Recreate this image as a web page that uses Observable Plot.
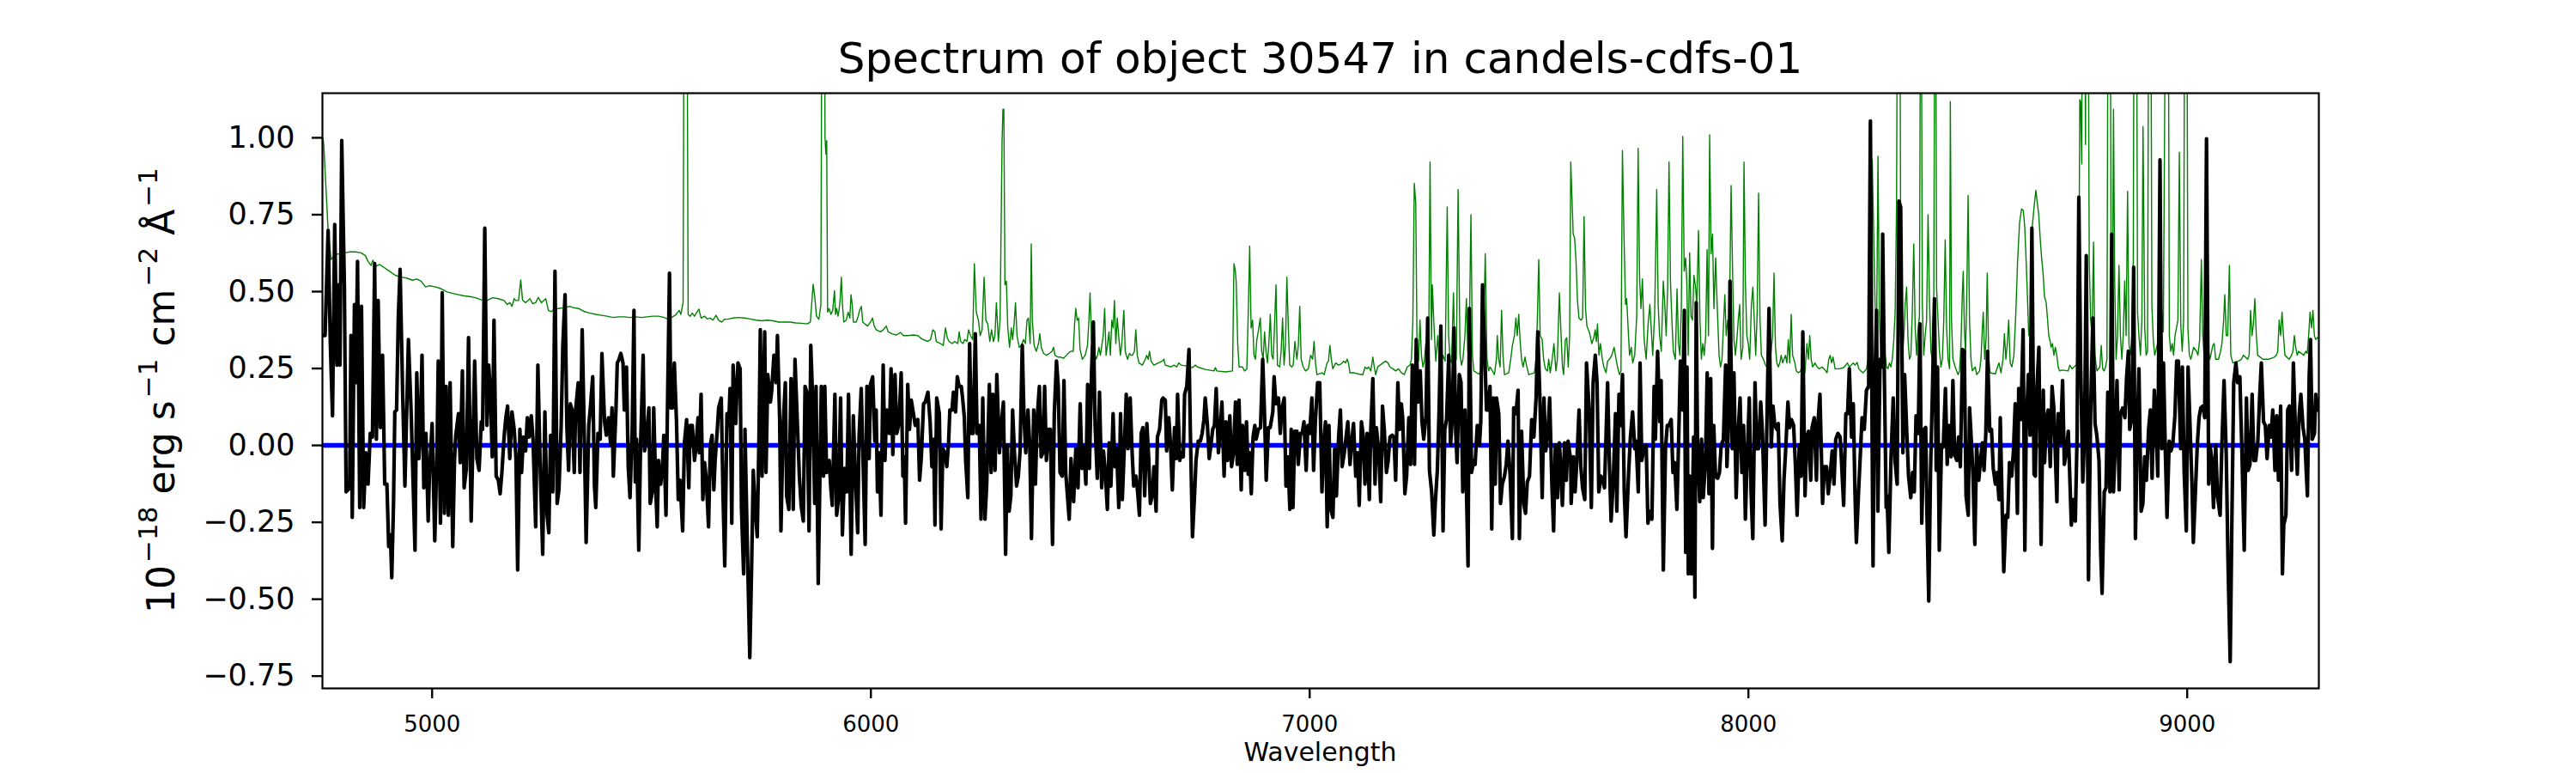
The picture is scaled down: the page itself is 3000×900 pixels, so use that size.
<!DOCTYPE html>
<html>
<head>
<meta charset="utf-8">
<script src="https://cdn.jsdelivr.net/npm/d3@7"></script>
<script src="https://cdn.jsdelivr.net/npm/@observablehq/plot@0.6"></script>
<style>
  body { margin: 0; background: white; }
  #fig { position: relative; width: 3000px; height: 900px; font-family: "DejaVu Sans", sans-serif; color: black; }
  #title { position: absolute; left: 0; width: 3075px; top: 43px; text-align: center; font-size: 50px; line-height: 50px; }
  #chart { position: absolute; left: 0; top: 100px; }
</style>
</head>
<body>
<div id="fig">
  <div id="title">Spectrum of object 30547 in candels-cdfs-01</div>
  <div id="chart"></div>
</div>
<script>
const titleText = "Spectrum of object 30547 in candels-cdfs-01";
const xLabel = "Wavelength";
const xTicks = [5000, 6000, 7000, 8000, 9000];
const yTicks = [-0.75, -0.5, -0.25, 0, 0.25, 0.5, 0.75, 1.0];
const xDomain = [4750, 9300];
const yDomain = [-0.79, 1.145];
const zeroLevel = [0];

// observed flux [wavelength, flux]
const observed = [
[4750,0.357],[4756,0.357],[4763,0.699],[4768,0.331],[4773,0.096],[4778,0.718],[4783,0.261],[4786,0.522],[4790,0.261],[4794,0.991],[4800,0.522],[4804,-0.151],[4812,-0.138],[4815,0.357],[4818,-0.234],[4823,0.458],[4826,0.204],[4830,0.598],[4835,-0.202],[4839,0.452],[4844,-0.202],[4849,-0.024],[4854,-0.126],[4859,0.039],[4864,0.027],[4869,0.591],[4873,0.020],[4877,0.471],[4882,0.058],[4887,0.293],[4892,-0.126],[4897,-0.126],[4901,-0.329],[4905,-0.291],[4908,-0.430],[4912,-0.189],[4915,0.109],[4919,0.115],[4923,0.420],[4927,0.572],[4933,0.160],[4938,-0.132],[4946,0.344],[4952,0.115],[4961,-0.341],[4965,0.236],[4970,-0.043],[4973,0.046],[4977,0.293],[4981,-0.138],[4986,0.039],[4991,-0.246],[4994,-0.088],[5000,0.071],[5006,-0.310],[5011,-0.030],[5014,0.274],[5019,-0.253],[5023,0.496],[5028,-0.221],[5032,0.192],[5037,-0.227],[5041,0.204],[5047,-0.329],[5051,-0.049],[5054,0.033],[5060,0.103],[5064,-0.056],[5069,0.242],[5073,-0.138],[5078,-0.075],[5083,0.350],[5089,-0.246],[5092,-0.049],[5097,0.274],[5102,-0.043],[5107,-0.081],[5112,0.077],[5115,0.052],[5120,0.706],[5125,0.065],[5129,0.261],[5133,0.166],[5137,-0.037],[5141,0.407],[5146,-0.100],[5151,-0.113],[5155,-0.157],[5159,-0.088],[5164,0.027],[5168,0.090],[5172,0.128],[5177,-0.043],[5182,0.109],[5187,0.052],[5191,-0.037],[5195,-0.405],[5200,0.052],[5204,-0.088],[5208,0.027],[5213,-0.018],[5217,0.090],[5221,0.027],[5226,0.096],[5230,0.020],[5236,-0.265],[5241,0.261],[5246,-0.049],[5252,-0.354],[5257,0.109],[5262,-0.227],[5266,-0.284],[5270,0.033],[5275,-0.151],[5280,0.566],[5285,-0.189],[5289,-0.145],[5294,0.058],[5298,0.331],[5303,0.490],[5307,0.065],[5311,-0.081],[5315,0.135],[5319,0.115],[5324,-0.088],
[5327,0.115],[5333,0.204],[5337,-0.088],[5342,0.376],[5347,0.020],[5351,-0.316],[5357,0.065],[5361,0.128],[5366,0.223],[5370,-0.132],[5373,-0.202],[5378,0.039],[5383,0.020],[5387,0.299],[5393,0.077],[5397,0.033],[5402,0.090],[5407,0.001],[5410,0.122],[5413,-0.100],[5419,0.115],[5422,0.268],[5426,0.280],[5430,0.299],[5435,0.268],[5438,0.115],[5443,0.255],[5447,-0.069],[5451,-0.170],[5456,0.052],[5460,0.439],[5463,-0.119],[5466,0.020],[5471,-0.341],[5475,-0.005],[5481,0.293],[5484,-0.018],[5488,0.014],[5494,0.122],[5497,-0.189],[5502,-0.151],[5505,0.122],[5510,-0.151],[5513,-0.265],[5516,-0.049],[5521,-0.126],[5525,-0.069],[5528,0.033],[5533,-0.227],[5536,0.084],[5541,0.560],[5544,0.122],[5548,0.122],[5552,0.268],[5557,0.077],[5561,-0.176],[5565,-0.113],[5571,-0.278],[5575,0.008],[5580,0.084],[5585,-0.138],[5588,0.065],[5593,0.065],[5598,-0.049],[5601,-0.011],[5606,0.090],[5609,-0.024],[5613,0.166],[5617,-0.176],[5621,-0.056],[5625,-0.113],[5630,-0.265],[5634,0.001],[5638,0.033],[5642,-0.145],[5645,-0.049],[5650,0.052],[5653,0.122],[5659,0.154],[5663,-0.164],[5667,-0.392],[5672,0.103],[5676,0.065],[5679,0.185],[5683,-0.253],[5686,0.261],[5692,0.071],[5697,0.268],[5702,0.249],[5705,-0.202],[5710,-0.418],[5713,0.052],[5719,-0.367],[5724,-0.690],[5728,-0.405],[5732,-0.081],[5736,-0.202],[5741,-0.297],[5745,0.033],[5748,0.376],[5752,-0.100],[5758,0.369],[5761,-0.088],[5765,0.230],[5771,0.141],[5774,0.179],[5779,0.293],[5784,0.204],[5787,0.357],[5792,0.090],[5795,-0.278],[5800,0.065],[5805,0.204],[5808,-0.164],[5813,-0.208],[5818,0.217],[5823,-0.208],[5827,0.280],[5833,0.052],[5837,-0.100],[5841,-0.195],[5846,-0.246],[5850,0.192],[5854,0.173],[5859,-0.278],[5863,0.325],[5867,0.160],[5872,-0.189],[5875,0.192],[5880,-0.449],
[5887,0.192],[5892,-0.100],[5895,0.192],[5899,-0.088],[5905,-0.049],[5909,-0.145],[5912,-0.195],[5918,0.166],[5922,-0.227],[5926,-0.176],[5931,0.154],[5935,-0.291],[5940,-0.075],[5945,-0.151],[5949,0.166],[5955,-0.354],[5960,0.096],[5965,-0.113],[5970,-0.284],[5973,0.027],[5978,0.185],[5983,-0.100],[5987,-0.322],[5991,0.192],[5996,-0.043],[5999,0.198],[6004,0.223],[6009,0.014],[6012,0.115],[6015,-0.151],[6019,-0.024],[6023,-0.227],[6028,0.261],[6032,-0.049],[6036,0.115],[6042,0.039],[6046,0.249],[6050,-0.030],[6055,0.230],[6059,0.039],[6064,0.071],[6069,0.236],[6073,-0.100],[6076,-0.037],[6079,-0.253],[6084,0.198],[6088,0.052],[6092,0.147],[6097,0.103],[6101,0.065],[6107,0.084],[6111,-0.113],[6115,-0.037],[6120,0.135],[6124,0.141],[6130,0.173],[6135,0.077],[6139,-0.069],[6143,0.020],[6146,-0.259],[6150,0.154],[6156,0.103],[6160,-0.272],[6164,-0.011],[6169,-0.024],[6173,-0.069],[6177,0.008],[6180,0.115],[6185,0.115],[6188,0.173],[6193,0.109],[6197,0.223],[6201,0.192],[6206,0.192],[6209,0.154],[6213,0.090],[6216,-0.049],[6221,-0.170],[6225,0.331],[6229,0.039],[6233,0.039],[6238,0.363],[6242,0.039],[6247,0.065],[6251,-0.240],[6255,0.154],[6260,-0.240],[6264,-0.126],[6270,0.198],[6274,-0.088],[6278,0.166],[6283,-0.081],[6287,0.230],[6293,-0.024],[6297,0.065],[6302,0.141],[6307,-0.354],[6311,0.001],[6315,-0.214],[6319,-0.164],[6323,0.115],[6327,-0.018],[6332,-0.132],[6336,-0.100],[6340,-0.018],[6345,0.325],[6349,0.090],[6353,-0.024],[6358,0.115],[6362,0.001],[6366,-0.303],[6371,0.115],[6375,-0.126],[6379,0.090],[6384,0.192],[6388,-0.037],[6392,-0.024],[6396,0.192],[6400,-0.049],[6405,0.052],[6409,0.052],[6414,-0.322],[6418,0.103],[6423,0.274],[6427,0.192],[6431,-0.088],[6436,-0.100],[6440,0.211],[6444,-0.088],[6448,-0.164],[6452,-0.240],[6456,-0.043],
[6462,-0.183],[6467,-0.011],[6472,-0.138],[6477,0.135],[6481,-0.075],[6485,-0.005],[6490,-0.126],[6494,0.198],[6498,-0.075],[6503,0.242],[6507,0.401],[6511,0.065],[6516,-0.107],[6521,0.173],[6526,-0.138],[6530,-0.018],[6534,-0.081],[6539,-0.208],[6543,0.008],[6547,-0.132],[6552,0.103],[6556,-0.069],[6560,-0.011],[6565,-0.202],[6569,0.103],[6573,-0.176],[6578,0.008],[6582,0.166],[6586,-0.011],[6591,0.154],[6595,-0.011],[6599,-0.132],[6604,-0.100],[6608,-0.151],[6612,-0.227],[6616,0.039],[6620,0.058],[6624,-0.164],[6629,0.071],[6633,-0.037],[6637,-0.189],[6642,-0.157],[6645,-0.069],[6650,-0.214],[6653,0.027],[6658,0.052],[6663,0.147],[6666,0.154],[6671,0.147],[6674,-0.018],[6679,0.090],[6683,0.001],[6687,-0.145],[6692,0.058],[6696,-0.043],[6699,0.166],[6704,-0.049],[6708,-0.024],[6712,-0.037],[6715,0.166],[6720,0.192],[6725,0.312],[6728,0.052],[6733,-0.297],[6738,-0.151],[6741,-0.049],[6746,0.014],[6751,0.014],[6755,0.039],[6759,0.084],[6762,0.154],[6767,0.065],[6771,-0.043],[6775,0.001],[6779,0.052],[6783,0.065],[6787,0.185],[6792,-0.024],[6796,0.046],[6800,0.141],[6805,-0.100],[6809,0.077],[6813,-0.049],[6818,0.096],[6822,-0.069],[6826,-0.030],[6831,0.141],[6835,-0.062],[6839,0.147],[6844,-0.145],[6847,0.065],[6852,-0.081],[6856,0.077],[6860,-0.094],[6863,-0.024],[6867,-0.157],[6871,0.027],[6875,0.065],[6878,0.020],[6883,0.052],[6888,0.058],[6893,0.280],[6897,0.109],[6901,-0.113],[6906,0.058],[6910,0.058],[6916,0.109],[6919,0.223],[6923,0.135],[6929,0.154],[6933,0.039],[6937,0.122],[6942,0.154],[6946,-0.132],[6950,-0.037],[6955,-0.208],[6958,0.052],[6962,-0.202],[6966,0.046],[6971,0.046],[6974,-0.062],[6979,0.039],[6983,0.039],[6987,0.077],[6992,-0.081],[6996,0.065],[7000,0.039],[7005,0.154],[7009,-0.081],[7013,0.077],[7018,0.204],[7023,0.204],[7028,-0.151],
[7032,0.001],[7036,0.077],[7040,-0.265],[7044,0.065],[7048,-0.208],[7053,-0.234],[7057,-0.011],[7061,-0.164],[7066,0.027],[7070,0.115],[7074,-0.069],[7079,-0.024],[7083,0.027],[7087,0.077],[7092,-0.062],[7096,0.014],[7100,0.071],[7105,-0.100],[7109,-0.024],[7113,-0.195],[7118,0.077],[7122,0.033],[7126,-0.126],[7131,0.039],[7136,-0.176],[7139,0.039],[7144,0.217],[7149,-0.126],[7152,0.058],[7157,-0.011],[7162,-0.183],[7166,0.128],[7170,0.052],[7175,-0.088],[7179,-0.049],[7183,0.027],[7188,0.033],[7192,0.027],[7196,-0.113],[7201,0.204],[7205,0.052],[7209,0.135],[7212,0.090],[7217,-0.157],[7221,-0.100],[7226,0.090],[7230,-0.062],[7234,0.261],[7239,-0.062],[7243,0.344],[7247,0.141],[7252,0.242],[7256,0.077],[7260,0.020],[7265,0.096],[7269,0.414],[7273,-0.081],[7278,-0.151],[7283,-0.291],[7286,-0.195],[7291,-0.081],[7295,0.115],[7299,0.388],[7304,-0.278],[7308,0.052],[7312,0.084],[7317,0.293],[7321,0.001],[7325,0.084],[7329,0.382],[7333,0.039],[7336,-0.056],[7341,0.230],[7345,0.204],[7349,-0.151],[7354,0.115],[7358,-0.189],[7361,-0.392],[7364,0.445],[7369,-0.088],[7374,-0.049],[7377,-0.062],[7382,0.065],[7387,0.001],[7390,0.077],[7394,0.522],[7398,0.357],[7403,0.115],[7407,0.115],[7411,0.192],[7415,-0.272],[7419,0.154],[7423,-0.126],[7426,0.154],[7431,0.103],[7435,-0.189],[7439,-0.126],[7444,-0.100],[7448,-0.062],[7452,0.014],[7457,-0.100],[7462,-0.303],[7465,0.122],[7470,0.103],[7475,0.179],[7478,-0.303],[7483,0.046],[7488,-0.189],[7492,-0.221],[7496,-0.119],[7501,-0.100],[7506,0.084],[7511,0.027],[7516,0.154],[7520,0.369],[7525,0.141],[7530,-0.170],[7534,0.154],[7538,-0.018],[7543,0.039],[7547,0.154],[7552,-0.126],[7556,-0.278],[7560,0.001],[7565,-0.170],[7569,0.008],[7572,-0.062],[7576,-0.195],[7581,0.008],[7585,-0.113],[7589,0.014],[7595,-0.049],
[7596,-0.189],[7601,-0.037],[7605,-0.151],[7609,-0.049],[7614,0.115],[7618,-0.069],[7622,-0.138],[7627,-0.176],[7631,0.268],[7637,0.115],[7642,-0.202],[7646,0.204],[7651,0.293],[7655,0.204],[7659,-0.151],[7664,-0.100],[7668,-0.113],[7672,-0.138],[7679,0.204],[7683,-0.049],[7687,-0.246],[7692,-0.113],[7697,0.103],[7700,-0.214],[7705,0.166],[7708,0.065],[7713,0.230],[7717,-0.151],[7721,-0.297],[7727,-0.088],[7731,0.027],[7736,0.109],[7741,-0.011],[7744,0.014],[7749,-0.151],[7753,0.268],[7757,-0.049],[7762,-0.005],[7767,0.001],[7771,-0.253],[7775,-0.214],[7780,-0.240],[7785,0.192],[7788,0.020],[7793,0.306],[7798,0.077],[7801,0.211],[7806,-0.405],[7811,-0.011],[7815,0.065],[7819,0.065],[7824,0.084],[7828,-0.088],[7832,-0.056],[7837,-0.208],[7841,0.020],[7845,0.274],[7850,0.115],[7854,0.439],[7857,-0.348],[7860,0.255],[7863,-0.418],[7866,-0.100],[7870,-0.418],[7875,0.027],[7878,-0.494],[7881,0.464],[7884,0.001],[7889,-0.183],[7893,0.020],[7897,-0.170],[7902,-0.056],[7906,0.236],[7910,-0.157],[7914,0.217],[7918,-0.335],[7921,0.065],[7925,-0.100],[7930,-0.107],[7934,-0.088],[7938,0.001],[7943,0.020],[7948,0.261],[7951,-0.069],[7955,0.084],[7958,0.534],[7963,-0.011],[7967,0.236],[7972,-0.170],[7977,0.052],[7981,0.154],[7985,-0.088],[7989,0.065],[7993,-0.240],[7997,-0.049],[8002,0.154],[8006,-0.151],[8010,-0.303],[8015,0.204],[8019,-0.011],[8023,-0.011],[8028,0.141],[8032,0.039],[8038,-0.259],[8042,0.065],[8047,0.445],[8052,-0.005],[8056,0.128],[8060,0.065],[8065,0.052],[8068,0.071],[8072,-0.189],[8077,-0.310],[8081,-0.113],[8085,-0.011],[8090,0.141],[8094,0.058],[8098,0.084],[8103,0.065],[8107,-0.062],[8111,-0.227],[8116,0.001],[8120,-0.100],[8124,0.369],[8129,-0.164],[8133,0.027],[8137,0.046],[8142,-0.113],[8145,0.058],[8150,0.090],[8155,-0.113],[8158,0.065],[8163,0.166],
[8169,-0.189],[8173,-0.069],[8178,-0.069],[8182,-0.157],[8186,-0.100],[8191,-0.018],[8195,-0.126],[8199,0.020],[8204,0.039],[8209,0.027],[8212,-0.049],[8217,-0.195],[8222,0.103],[8226,0.103],[8230,0.249],[8235,0.027],[8239,0.135],[8243,-0.164],[8246,-0.316],[8251,-0.151],[8255,-0.030],[8259,0.090],[8264,0.052],[8269,0.179],[8274,0.192],[8278,1.055],[8282,0.001],[8284,-0.392],[8287,0.128],[8292,0.439],[8295,-0.214],[8300,0.280],[8304,0.255],[8306,0.687],[8310,0.204],[8314,-0.202],[8316,-0.164],[8320,-0.348],[8325,-0.037],[8330,0.154],[8334,-0.049],[8339,-0.126],[8343,0.794],[8347,0.775],[8352,-0.024],[8356,0.230],[8361,0.039],[8365,-0.100],[8370,-0.170],[8374,-0.088],[8378,-0.151],[8382,0.096],[8387,0.039],[8391,0.395],[8395,-0.253],[8400,0.052],[8404,0.058],[8407,-0.227],[8411,-0.506],[8415,-0.088],[8419,0.154],[8424,0.477],[8428,-0.081],[8431,0.255],[8435,-0.341],[8440,0.001],[8444,-0.005],[8449,0.185],[8453,-0.062],[8457,0.065],[8462,-0.037],[8466,0.211],[8470,-0.030],[8475,-0.049],[8479,0.027],[8483,-0.069],[8488,0.312],[8492,0.306],[8496,-0.164],[8501,-0.227],[8504,0.122],[8509,-0.011],[8512,-0.107],[8516,-0.322],[8520,0.001],[8525,-0.113],[8529,-0.049],[8533,0.008],[8537,-0.081],[8541,0.039],[8545,0.306],[8550,0.046],[8554,0.052],[8558,-0.075],[8563,-0.126],[8567,-0.088],[8571,-0.176],[8574,0.090],[8579,-0.240],[8582,-0.411],[8587,-0.227],[8591,-0.234],[8595,-0.056],[8600,-0.100],[8604,-0.018],[8608,0.135],[8613,-0.221],[8616,0.185],[8621,0.084],[8626,0.376],[8630,-0.341],[8633,0.052],[8638,0.230],[8642,0.033],[8646,0.706],[8651,-0.094],[8654,-0.100],[8657,0.173],[8662,0.319],[8667,-0.322],[8672,0.179],[8675,-0.056],[8679,0.084],[8683,0.115],[8688,-0.069],[8692,0.192],[8696,0.122],[8703,-0.183],[8706,0.103],[8711,0.008],[8716,0.211],[8720,-0.062],[8724,-0.024],[8729,0.046],
[8736,-0.259],[8740,-0.176],[8745,-0.246],[8749,0.027],[8753,0.807],[8757,0.280],[8762,-0.119],[8766,0.027],[8770,0.617],[8775,-0.437],[8780,0.115],[8785,0.414],[8790,0.071],[8794,0.033],[8799,-0.049],[8803,-0.354],[8806,-0.481],[8811,-0.151],[8815,-0.138],[8819,0.173],[8824,-0.151],[8828,0.687],[8832,-0.151],[8835,-0.037],[8840,0.211],[8845,-0.145],[8848,0.103],[8853,0.122],[8858,0.090],[8862,0.223],[8866,0.306],[8869,0.052],[8874,0.090],[8878,0.579],[8882,-0.303],[8886,0.027],[8890,0.249],[8895,-0.214],[8899,-0.189],[8903,-0.037],[8907,-0.113],[8912,0.052],[8916,0.115],[8920,-0.107],[8925,0.179],[8928,0.103],[8933,-0.100],[8938,0.928],[8942,-0.011],[8946,0.268],[8950,-0.011],[8954,-0.234],[8959,0.014],[8963,-0.018],[8967,0.001],[8972,0.096],[8976,0.274],[8980,0.274],[8985,-0.011],[8989,0.255],[8993,-0.081],[8998,-0.278],[9002,0.255],[9006,0.084],[9011,-0.132],[9014,-0.316],[9018,-0.176],[9023,0.001],[9027,0.090],[9031,0.122],[9036,0.128],[9040,0.090],[9044,0.997],[9049,-0.126],[9052,0.001],[9056,-0.043],[9060,-0.202],[9065,0.001],[9069,-0.164],[9075,-0.227],[9079,0.001],[9084,0.211],[9089,-0.030],[9093,-0.379],[9098,-0.703],[9102,-0.227],[9106,0.204],[9111,0.268],[9115,0.204],[9120,0.223],[9125,-0.037],[9130,-0.341],[9135,0.154],[9139,-0.081],[9143,-0.062],[9148,0.166],[9152,-0.049],[9156,-0.049],[9161,0.014],[9165,0.154],[9169,0.268],[9174,0.077],[9178,0.065],[9182,-0.043],[9187,0.065],[9191,0.027],[9195,0.115],[9200,-0.081],[9204,0.096],[9208,-0.113],[9213,0.128],[9217,-0.418],[9220,-0.259],[9225,-0.227],[9229,0.115],[9233,0.128],[9238,-0.081],[9242,0.268],[9246,0.077],[9251,-0.094],[9255,0.096],[9259,0.166],[9264,0.058],[9268,0.020],[9274,-0.164],[9278,0.223],[9281,0.344],[9285,0.020],[9290,0.039],[9293,0.166],[9298,0.115]
];

// model / sky spectrum [wavelength, flux] (spikes beyond the top are clipped)
const model = [
[4751,1.0],[4753,0.978],[4763,0.699],[4770,0.604],[4779,0.621],[4792,0.623],[4802,0.626],[4812,0.629],[4825,0.629],[4838,0.626],[4848,0.617],[4854,0.598],[4861,0.585],[4865,0.602],[4871,0.582],[4880,0.588],[4890,0.579],[4903,0.566],[4916,0.553],[4929,0.547],[4942,0.544],[4955,0.537],[4965,0.541],[4975,0.534],[4985,0.515],[4994,0.519],[5008,0.515],[5021,0.509],[5034,0.499],[5047,0.494],[5060,0.490],[5073,0.486],[5086,0.484],[5099,0.480],[5112,0.473],[5125,0.471],[5138,0.480],[5151,0.477],[5164,0.471],[5171,0.458],[5177,0.464],[5182,0.452],[5187,0.477],[5191,0.471],[5197,0.471],[5202,0.538],[5206,0.473],[5213,0.464],[5223,0.477],[5229,0.461],[5236,0.464],[5242,0.481],[5249,0.464],[5259,0.477],[5265,0.439],[5272,0.435],[5278,0.443],[5288,0.445],[5301,0.448],[5314,0.452],
[5321,0.448],[5334,0.445],[5347,0.435],[5360,0.430],[5373,0.426],[5386,0.423],[5399,0.420],[5412,0.416],[5425,0.418],[5438,0.418],[5451,0.416],[5464,0.418],[5477,0.416],[5490,0.418],[5503,0.420],[5516,0.420],[5529,0.416],[5536,0.411],[5546,0.416],[5555,0.424],[5563,0.439],[5567,0.426],[5572,0.464],[5575,2.0],[5580,2.0],[5583.5,0.426],[5588,0.420],[5593,0.430],[5598,0.420],[5602,0.430],[5608,0.443],[5613,0.414],[5621,0.420],[5627,0.411],[5634,0.414],[5640,0.407],[5647,0.423],[5653,0.407],[5660,0.401],[5666,0.410],[5676,0.411],[5686,0.414],[5699,0.416],[5712,0.414],[5725,0.411],[5738,0.407],[5751,0.405],[5764,0.407],[5777,0.405],[5790,0.401],[5803,0.401],[5816,0.401],[5829,0.398],[5842,0.397],[5855,0.395],[5862,0.401],[5865,0.458],[5868.4,0.524],[5872,0.484],[5876,0.420],[5881.5,0.410],[5886,0.458],[5889.3,2.0],
[5893.5,2.0],[5895.4,1.004],[5897.4,0.947],[5899.3,0.991],[5901.3,0.433],[5904.5,0.445],[5909,0.426],[5913,0.439],[5917,0.503],[5919.5,0.426],[5922,0.445],[5925,0.420],[5927.4,0.439],[5930,0.477],[5932.6,0.547],[5935.2,0.458],[5938.4,0.401],[5943.7,0.407],[5948.2,0.433],[5952,0.414],[5954.7,0.490],[5957.4,0.458],[5960,0.401],[5966.5,0.401],[5971,0.420],[5974.3,0.439],[5978.2,0.452],[5981.5,0.401],[5986,0.395],[5992.6,0.388],[5999.1,0.401],[6003.6,0.414],[6007.6,0.388],[6012,0.376],[6022,0.369],[6028.4,0.376],[6035,0.388],[6039.5,0.369],[6048,0.363],[6058,0.359],[6067.5,0.367],[6074,0.357],[6084,0.357],[6097,0.359],[6107,0.357],[6116,0.346],[6129.5,0.338],[6136,0.344],[6141.2,0.376],[6145.8,0.369],[6149,0.338],[6159,0.331],[6165,0.325],[6170,0.382],[6174,0.350],[6178,0.338],[6185,0.331],[6191,0.338],[6198,0.331],[6201.2,0.369],[6204.5,0.338],[6210,0.331],[6214,0.344],[6219,0.338],[6222.7,0.376],[6227,0.357],[6232,0.344],[6235.8,0.591],[6240.3,0.433],[6245,0.407],[6249,0.357],[6253.4,0.376],[6258,0.547],[6262,0.407],[6266.4,0.395],[6271,0.338],[6275,0.376],[6279.4,0.338],[6282.7,0.357],[6286,0.464],[6290.5,0.338],[6294.4,0.407],[6299,0.991],[6301,1.093],[6303,1.093],[6305.5,0.522],[6308.8,0.534],[6312,0.382],[6316,0.319],[6320,0.382],[6323,0.344],[6326.4,0.395],[6329.6,0.464],[6333,0.357],[6338,0.319],[6343,0.325],[6348,0.344],[6352,0.331],[6355.7,0.407],[6359,0.414],[6363,0.331],[6365.5,0.655],[6368,0.407],[6372,0.325],[6377,0.306],[6382,0.331],[6385,0.363],[6388.3,0.319],[6393.5,0.299],[6400,0.293],[6406.6,0.299],[6413,0.306],[6416.4,0.319],[6419.6,0.293],[6426,0.287],[6432.7,0.287],[6439,0.283],[6445.7,0.293],
[6449.3,0.299],[6455.8,0.306],[6461.1,0.306],[6464.3,0.395],[6466.9,0.445],[6470.2,0.407],[6473.4,0.414],[6476.7,0.312],[6481.9,0.280],[6488.4,0.293],[6493.7,0.325],[6496.9,0.407],[6499.5,0.496],[6502.8,0.344],[6506.6,0.319],[6510,0.299],[6513.2,0.280],[6516.5,0.293],[6519.7,0.319],[6523,0.293],[6526.3,0.325],[6529.5,0.357],[6532.8,0.445],[6536,0.293],[6539.3,0.325],[6542.6,0.369],[6545.8,0.293],[6549.1,0.407],[6552.3,0.382],[6555,0.471],[6558.2,0.331],[6561.5,0.414],[6564.7,0.357],[6568.6,0.293],[6571.9,0.331],[6576.5,0.439],[6579.7,0.306],[6584.9,0.280],[6589.5,0.299],[6592.8,0.293],[6596,0.293],[6600.6,0.306],[6603.8,0.376],[6607.1,0.293],[6611,0.268],[6618.8,0.261],[6625.4,0.280],[6628.6,0.293],[6631.9,0.280],[6635.1,0.306],[6638.4,0.274],[6644.9,0.261],[6654.7,0.268],[6664.5,0.274],[6667.7,0.280],[6671,0.261],[6684,0.255],[6690.6,0.261],[6697.1,0.255],[6701.6,0.268],[6706.9,0.261],[6719.9,0.258],[6732.9,0.253],[6739.5,0.261],[6744,0.255],[6762.3,0.247],[6781.8,0.242],[6785.1,0.253],[6788.4,0.242],[6807.9,0.239],[6824.2,0.242],[6827.5,0.591],[6830.7,0.566],[6832.7,0.528],[6836,0.331],[6839.2,0.255],[6847,0.255],[6851.6,0.242],[6856.8,0.249],[6860.1,0.433],[6863.3,0.648],[6866.6,0.382],[6869.9,0.407],[6873.1,0.293],[6876.4,0.280],[6879.6,0.344],[6883.6,0.376],[6887.5,0.414],[6890.7,0.306],[6894,0.280],[6897.2,0.369],[6900.5,0.306],[6903.8,0.268],[6907,0.331],[6910.3,0.426],[6913.5,0.293],[6916.8,0.280],[6920.1,0.395],[6923.3,0.522],[6926.6,0.261],[6931.8,0.255],[6935,0.306],[6938.3,0.414],[6941.6,0.261],[6944.8,0.325],[6948.1,0.547],[6951.4,0.382],[6954.6,0.261],[6959.2,0.255],[6962.4,0.261],[6966.4,0.338],[6970.9,0.280],[6974.2,0.325],[6977.4,0.452],[6980.7,0.280],[6985.3,0.255],[6990.5,0.242],[6997,0.249],[7002.2,0.293],[7006.8,0.280],[7010,0.338],[7013.3,0.268],[7016.6,0.230],[7028.3,0.236],
[7033.1,0.230],[7039.6,0.268],[7042.9,0.274],[7046.2,0.325],[7049.4,0.280],[7052.7,0.249],[7059.2,0.268],[7065.7,0.261],[7072.2,0.265],[7077.5,0.274],[7082,0.268],[7085.3,0.280],[7088.5,0.268],[7091.8,0.236],[7101.6,0.236],[7111.4,0.232],[7121.1,0.230],[7126.4,0.255],[7130.9,0.249],[7134.2,0.255],[7139.4,0.242],[7144,0.287],[7147.2,0.255],[7150.5,0.230],[7155.1,0.255],[7160.3,0.261],[7166.8,0.268],[7173.3,0.274],[7178.5,0.268],[7183.1,0.255],[7189.6,0.249],[7196.1,0.242],[7202.6,0.249],[7209.2,0.236],[7215.7,0.230],[7222.2,0.255],[7228.7,0.261],[7232,0.280],[7235.2,0.407],[7238.5,0.852],[7241.8,0.788],[7245,0.280],[7248.3,0.274],[7251.5,0.407],[7254.8,0.293],[7258.1,0.255],[7261.3,0.274],[7264.6,0.331],[7271.1,0.280],[7274.4,0.921],[7277.6,0.344],[7279.6,0.522],[7282.8,0.407],[7287.4,0.274],[7292,0.357],[7295.2,0.274],[7300.4,0.268],[7303.7,0.293],[7308.9,0.274],[7313.5,0.775],[7316.7,0.357],[7320,0.280],[7323.3,0.268],[7327.8,0.496],[7331.1,0.268],[7334.3,0.280],[7338.3,0.832],[7342.8,0.293],[7346.1,0.261],[7349.3,0.280],[7353.9,0.357],[7357.2,0.477],[7360.4,0.306],[7363.7,0.357],[7367.6,0.750],[7370.9,0.293],[7374.1,0.242],[7385.2,0.232],[7391.7,0.242],[7395,0.274],[7400.2,0.623],[7404.1,0.280],[7408,0.242],[7411.3,0.255],[7421.1,0.230],[7425.6,0.280],[7427.6,0.357],[7430.8,0.280],[7434.1,0.255],[7437.4,0.439],[7440.6,0.293],[7443.9,0.230],[7453.7,0.236],[7458.2,0.280],[7462.1,0.325],[7466.7,0.357],[7470,0.414],[7473.2,0.357],[7476.5,0.426],[7479.7,0.338],[7483,0.280],[7486.3,0.255],[7490.8,0.287],[7494.1,0.261],[7499.3,0.230],[7512.3,0.236],[7515.6,0.280],[7518.9,0.407],[7522.1,0.604],[7525.4,0.357],[7529.9,0.344],[7533.2,0.280],[7537.1,0.249],[7541.7,0.242],[7544.9,0.280],[7548.2,0.236],[7552.8,0.280],[7556.7,0.331],[7561.2,0.242],[7564.5,0.280],[7569.1,0.496],[7572.3,0.382],[7576.2,0.255],[7578.8,0.230],[7582.8,0.344],[7586,0.350],[7589.3,0.255],[7592.5,0.357],[7595.1,0.921],
[7600.6,0.687],[7603.9,0.674],[7607.1,0.598],[7610.4,0.471],[7613.7,0.414],[7618.2,0.407],[7622.1,0.414],[7625.4,0.744],[7628.7,0.445],[7631.9,0.388],[7635.2,0.376],[7638.4,0.363],[7643,0.331],[7647.6,0.350],[7650.8,0.376],[7653.4,0.338],[7656,0.395],[7659.3,0.293],[7662.6,0.331],[7667.1,0.280],[7670.4,0.255],[7675.6,0.236],[7678.9,0.274],[7683.4,0.280],[7688.6,0.293],[7693.9,0.319],[7698.4,0.280],[7701.7,0.255],[7706.2,0.230],[7709.5,0.242],[7712.8,0.959],[7716.7,0.661],[7719.9,0.458],[7722.5,0.477],[7725.8,0.382],[7729.1,0.293],[7733,0.319],[7736.2,0.268],[7740.8,0.293],[7745.4,0.420],[7748.6,0.966],[7751.9,0.547],[7755.1,0.445],[7758.4,0.541],[7762.3,0.344],[7766.9,0.280],[7771.4,0.395],[7775.4,0.458],[7778.6,0.376],[7781.9,0.293],[7786.4,0.433],[7791,0.832],[7794.3,0.458],[7797.5,0.357],[7801.4,0.306],[7806,0.534],[7809.3,0.458],[7812.5,0.357],[7815.8,0.509],[7819,0.921],[7822.3,0.534],[7825.6,0.407],[7828.8,0.306],[7833.4,0.280],[7837.3,0.509],[7840.6,0.331],[7843.8,0.293],[7847.1,0.445],[7850.3,1.004],[7853.6,0.566],[7856.9,0.610],[7859.5,0.534],[7862.7,0.293],[7866,0.626],[7869.2,0.420],[7872.5,0.407],[7875.8,0.553],[7879,0.522],[7882.3,0.458],[7886.2,0.699],[7889.5,0.407],[7892.7,0.280],[7896,0.331],[7899.2,0.293],[7902.5,0.357],[7905.8,0.636],[7909,0.357],[7911.6,1.010],[7914.9,0.623],[7918.1,0.687],[7921.4,0.445],[7925.3,0.610],[7928.6,0.464],[7933.1,0.293],[7936.4,0.255],[7939.7,0.280],[7942.9,0.382],[7946.2,0.490],[7949.4,0.357],[7952.7,0.407],[7956,0.344],[7960.5,0.845],[7963.8,0.572],[7967,0.344],[7970.3,0.293],[7973.6,0.344],[7976.8,0.407],[7980.1,0.458],[7983.3,0.280],[7987.3,0.319],[7989.9,0.921],[7993.1,0.528],[7996.4,0.357],[7999.6,0.331],[8002.9,0.280],[8006.8,0.458],[8010.1,0.515],[8013.3,0.407],[8016.6,0.293],[8019.9,0.433],[8023.1,0.820],[8026.4,0.407],[8029.6,0.293],[8034.2,0.280],[8038.8,0.261],[8042,0.255],[8045.3,0.357],[8048.5,0.255],[8055.1,0.357],[8058.3,0.560],[8061.6,0.319],[8064.8,0.268],[8068.1,0.255],[8071.4,0.268],[8074.6,0.293],[8077.9,0.268],[8081.1,0.280],[8084.4,0.293],[8087.7,0.268],[8090.9,0.344],[8094.2,0.268],[8097.4,0.426],[8100.7,0.293],[8105.9,0.268],[8109.2,0.242],[8113.7,0.236],[8119,0.242],[8124.2,0.280],[8128.7,0.236],[8133.3,0.331],[8136.6,0.280],[8139.8,0.357],[8143.1,0.280],[8146.3,0.255],[8151.6,0.268],[8156.8,0.255],[8161.3,0.249],
[8168.1,0.255],[8174.6,0.245],[8179.2,0.236],[8183.1,0.280],[8186.4,0.293],[8189.6,0.268],[8192.9,0.287],[8197.5,0.249],[8207.2,0.249],[8217,0.253],[8221.6,0.261],[8225.5,0.268],[8230.1,0.255],[8234.6,0.261],[8238.5,0.268],[8243.1,0.261],[8247.7,0.270],[8251.6,0.249],[8256.1,0.242],[8261.4,0.236],[8269.2,0.249],[8272.4,0.280],[8275.7,0.433],[8279,0.458],[8282.2,0.928],[8285.5,0.687],[8288.7,0.458],[8292,0.344],[8295.3,0.940],[8298.5,0.420],[8301.8,0.280],[8305,0.268],[8308.3,0.306],[8311.6,0.293],[8314.8,0.255],[8318.1,0.249],[8321.3,0.268],[8324.6,0.255],[8327.9,0.280],[8331.1,0.338],[8334.4,0.433],[8337.6,0.788],[8340.9,2.0],[8344.2,2.0],[8347.4,0.458],[8350.7,0.293],[8353.9,0.344],[8357.2,0.458],[8360.5,0.515],[8363.7,0.344],[8367,0.280],[8370.2,0.293],[8373.5,0.433],[8376.8,0.655],[8380,0.382],[8383.3,0.293],[8386.5,0.376],[8389.8,0.420],[8393.1,2.0],[8396.3,0.458],[8399.6,0.293],[8402.8,0.357],[8406.1,0.407],[8409.4,0.750],[8412.6,0.477],[8415.9,0.306],[8419.1,0.280],[8422.4,0.471],[8425.7,2.0],[8428.9,0.509],[8432.2,0.407],[8435.4,0.306],[8438.7,0.255],[8442,0.280],[8445.2,0.407],[8448.5,0.668],[8451.7,0.382],[8455,0.280],[8458.3,0.249],[8460.2,1.118],[8462.8,0.407],[8466.1,0.280],[8471.3,0.255],[8477.8,0.230],[8481.1,0.242],[8484.3,0.325],[8487.6,0.496],[8489.6,0.566],[8492.2,0.382],[8494.8,0.293],[8498,0.522],[8500.6,0.813],[8503.9,0.407],[8507.2,0.280],[8510.4,0.242],[8516.9,0.255],[8520.2,0.230],[8526.7,0.242],[8530,0.280],[8533.2,0.382],[8535.2,0.433],[8538.5,0.280],[8541.7,0.350],[8544.3,0.560],[8547.6,0.280],[8550.8,0.236],[8562.6,0.232],[8567.8,0.255],[8571.1,0.268],[8575.6,0.236],[8580.2,0.280],[8583.4,0.363],[8586.7,0.280],[8590,0.331],[8593.2,0.407],[8596.5,0.268],[8600.4,0.255],[8605,0.293],[8609.5,0.433],[8613.4,0.598],[8618,0.725],[8622.6,0.769],[8626.5,0.763],[8629.7,0.712],[8633,0.598],[8635.6,0.496],[8638.9,0.357],[8642.8,0.382],[8646,0.699],[8648.6,0.737],[8651.9,0.788],[8655.2,0.829],[8658.4,0.788],[8661.7,0.750],[8664.9,0.674],[8668.2,0.610],[8671.5,0.560],[8674.7,0.484],[8678.6,0.464],[8681.9,0.407],[8684.5,0.357],[8687.8,0.338],[8689.7,0.319],[8693,0.331],[8696.2,0.293],[8699.5,0.319],[8702.8,0.293],[8706,0.255],[8709.3,0.242],[8715.8,0.245],[8728.8,0.242],
[8732.4,0.261],[8737.6,0.249],[8742.1,0.255],[8746.7,0.261],[8750.6,0.280],[8753.2,0.534],[8755.2,1.124],[8757.1,1.118],[8759.7,0.915],[8761.7,2.0],[8765,2.0],[8768.2,0.978],[8770.2,2.0],[8773.4,2.0],[8776.7,0.598],[8780,0.407],[8783.2,0.357],[8786.5,0.661],[8789.7,0.293],[8794.3,0.242],[8800.8,0.255],[8804.1,0.325],[8807.3,0.249],[8810.6,0.242],[8813.9,0.255],[8817.1,0.280],[8820.4,2.0],[8823.6,2.0],[8826.9,0.407],[8830.2,0.598],[8832.1,1.093],[8834.7,0.534],[8838,0.280],[8841.2,0.357],[8844.5,0.585],[8847.8,0.357],[8851,0.280],[8854.3,0.357],[8857.5,0.534],[8860.8,0.357],[8864.1,0.826],[8867.3,0.331],[8870.6,0.293],[8873.8,0.357],[8877.1,0.598],[8879.7,2.0],[8883.6,2.0],[8886.9,0.433],[8890.1,0.357],[8893.4,0.293],[8896.7,0.407],[8899.3,1.036],[8903.2,0.382],[8906.4,0.293],[8909.7,0.306],[8913,2.0],[8916.2,2.0],[8919.5,0.458],[8922.7,0.344],[8926,0.293],[8932.5,0.331],[8935.8,0.357],[8939,0.407],[8942.3,0.433],[8945.6,0.369],[8948.8,1.118],[8952.1,2.0],[8956,2.0],[8959.3,0.357],[8962.5,0.306],[8965.8,0.331],[8969,0.293],[8972.3,0.357],[8978.8,0.407],[8982.1,0.953],[8985.3,0.395],[8988.6,0.306],[8991.9,0.407],[8995.1,2.0],[8998.4,2.0],[9001.6,0.382],[9004.9,0.293],[9008.2,0.280],[9014.7,0.319],[9021.2,0.306],[9024.5,0.293],[9028.4,0.344],[9032.3,0.604],[9035.5,0.357],[9038.8,0.280],[9045.3,0.331],[9051.8,0.280],[9058.4,0.325],[9061.6,0.331],[9064.9,0.280],[9071.4,0.280],[9076,0.306],[9079.2,0.331],[9083.1,0.407],[9085.7,0.490],[9089,0.357],[9092.3,0.357],[9096.2,0.585],[9099.4,0.293],[9104,0.268],[9117,0.274],[9123.6,0.280],[9128.1,0.293],[9137.9,0.280],[9141.2,0.293],[9144.4,0.439],[9147.7,0.357],[9150.9,0.395],[9154.2,0.477],[9157.5,0.357],[9160.7,0.293],[9172.5,0.280],[9185.5,0.280],[9198.5,0.287],[9203.1,0.293],[9206.4,0.306],[9209.6,0.407],[9212.9,0.357],[9216.1,0.433],[9219.4,0.357],[9222.7,0.293],[9232.4,0.280],[9237.7,0.293],[9240.9,0.306],[9244.2,0.357],[9247.4,0.319],[9250.7,0.293],[9254,0.306],[9265.7,0.293],[9270.3,0.306],[9273.5,0.299],[9276.8,0.357],[9280,0.433],[9283.3,0.382],[9286.6,0.439],[9289.8,0.357],[9293.1,0.344],[9296.3,0.350],[9300.9,0.350]
];

const W = 3000, H = 800;
const chart = Plot.plot({
  width: W,
  height: H,
  marginLeft: 375,
  marginRight: 300,
  marginTop: 8,
  marginBottom: 99,
  style: { fontFamily: "DejaVu Sans, sans-serif", background: "white", color: "black", overflow: "visible" },
  x: { domain: xDomain },
  y: { domain: yDomain },
  marks: [
    Plot.line(model, { x: d => d[0], y: d => d[1], stroke: "green", strokeWidth: 1.4, clip: true }),
    Plot.ruleY(zeroLevel, { stroke: "blue", strokeWidth: 5.5 }),
    Plot.line(observed, { x: d => d[0], y: d => d[1], stroke: "black", strokeWidth: 4.2, clip: true }),
    Plot.frame({ stroke: "black", strokeWidth: 2.2 }),
    Plot.axisX({ ticks: xTicks, tickSize: 12, tickPadding: 20, fontSize: 26, strokeWidth: 2.4, tickFormat: d => String(d), label: null }),
    Plot.axisY({ ticks: yTicks, tickSize: 12, tickPadding: 20, fontSize: 35, strokeWidth: 2.4, tickFormat: d3.format(".2f"), label: null })
  ]
});

const svg = d3.select(chart);
// x label
svg.append("text")
  .attr("x", (375 + 2700) / 2)
  .attr("y", 786)
  .attr("text-anchor", "middle")
  .attr("font-size", 30)
  .attr("fill", "black")
  .text(xLabel);

// y label with superscripts
const yl = svg.append("text")
  .attr("transform", `translate(203, ${(8 + 701) / 2}) rotate(-90)`)
  .attr("text-anchor", "middle")
  .attr("font-size", 44)
  .attr("fill", "black");
const parts = [
  ["10", false], ["\u221218", true], [" erg s", false], ["\u22121", true],
  [" cm", false], ["\u22122", true], [" \u00c5", false], ["\u22121", true]
];
let raised = false;
for (const [t, sup] of parts) {
  const ts = yl.append("tspan").text(t);
  if (sup) { ts.attr("dy", -20).attr("dx", 3).attr("font-size", 31); raised = true; }
  else if (raised) { ts.attr("dy", 20); raised = false; }
}

document.getElementById("chart").appendChild(chart);
document.getElementById("title").textContent = titleText;
</script>
</body>
</html>
